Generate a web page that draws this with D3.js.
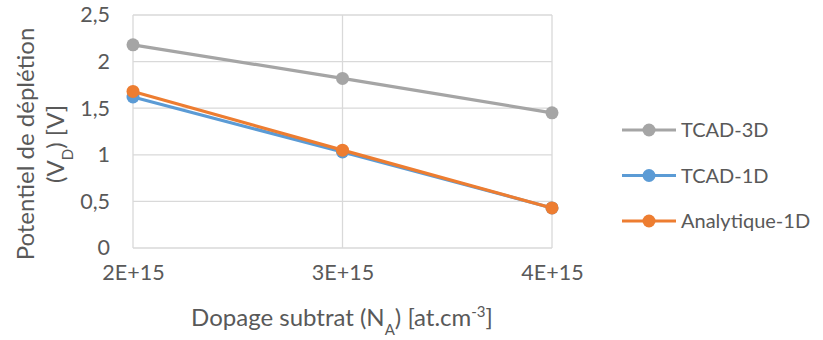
<!DOCTYPE html>
<html><head><meta charset="utf-8">
<script src="https://cdn.jsdelivr.net/npm/d3@7"></script>
<style>body{margin:0;background:#fff}text{font-family:Lato,"Open Sans",sans-serif;fill:#595959}</style>
</head><body><svg id="c" width="823" height="340"></svg>
<script>
const categories = ["2E+15", "3E+15", "4E+15"];
const tcad3d = [2.18, 1.82, 1.45];
const tcad1d = [1.62, 1.03, 0.43];
const analytique = [1.68, 1.05, 0.43];
const yTicks = [0, 0.5, 1, 1.5, 2, 2.5];
const seriesNames = ["TCAD-3D", "TCAD-1D", "Analytique-1D"];
const colors = ["#a5a5a5", "#5b9bd5", "#ed7d31"];

const svg = d3.select("#c");
const L = 133, R = 552, T = 15, B = 248;
const x = d3.scalePoint().domain(categories).range([L, R]);
const y = d3.scaleLinear().domain([0, 2.5]).range([B, T]);

// grid
svg.append("g").selectAll("line").data(yTicks).join("line")
  .attr("x1", L).attr("x2", R).attr("y1", d => y(d)).attr("y2", d => y(d))
  .attr("stroke", "#d9d9d9").attr("stroke-width", 1.3);
svg.append("g").selectAll("line").data(categories).join("line")
  .attr("x1", d => x(d)).attr("x2", d => x(d)).attr("y1", T).attr("y2", B)
  .attr("stroke", "#d9d9d9").attr("stroke-width", 1.3);

// axes
const yAxis = svg.append("g").attr("transform", `translate(${L},0)`)
  .call(d3.axisLeft(y).tickValues(yTicks).tickSize(0).tickPadding(23)
    .tickFormat(d => String(d).replace(".", ",")));
yAxis.select(".domain").remove();
yAxis.selectAll("text").style("font-size", "21.5px").style("fill", "#595959").style("font-family", "Lato");

const xAxis = svg.append("g").attr("transform", `translate(0,${B})`)
  .call(d3.axisBottom(x).tickSize(0).tickPadding(17));
xAxis.select(".domain").remove();
xAxis.selectAll("text").style("font-size", "21.5px").style("fill", "#595959").style("font-family", "Lato");

// series
const data = [tcad3d, tcad1d, analytique];
const line = d3.line().x((d, i) => x(categories[i])).y(d => y(d));
data.forEach((vals, k) => {
  const g = svg.append("g");
  g.append("path").attr("d", line(vals)).attr("fill", "none")
    .attr("stroke", colors[k]).attr("stroke-width", 3.2).attr("stroke-linejoin", "round");
  g.selectAll("circle").data(vals).join("circle")
    .attr("cx", (d, i) => x(categories[i])).attr("cy", d => y(d)).attr("r", 6.5)
    .attr("fill", colors[k]);
});

// legend
seriesNames.forEach((n, k) => {
  const ly = 130 + k * 45.5;
  const g = svg.append("g");
  g.append("line").attr("x1", 622).attr("x2", 676).attr("y1", ly).attr("y2", ly)
    .attr("stroke", colors[k]).attr("stroke-width", 3.2);
  g.append("circle").attr("cx", 649).attr("cy", ly).attr("r", 6.5).attr("fill", colors[k]);
  g.append("text").attr("x", 681).attr("y", ly).attr("dy", "0.35em")
    .style("font-size", "20px").text(n);
});

// x title
const xt = svg.append("text").attr("x", 342).attr("y", 326).attr("text-anchor", "middle").style("font-size", "24px");
xt.append("tspan").text("Dopage subtrat (N");
xt.append("tspan").attr("baseline-shift", "sub").style("font-size", "15px").text("A");
xt.append("tspan").text(") [at.cm");
xt.append("tspan").attr("baseline-shift", "super").style("font-size", "15px").text("-3");
xt.append("tspan").text("]");

// y title
const yt = svg.append("g").attr("transform", "translate(0,144) rotate(-90)");
yt.append("text").attr("x", 0).attr("y", 34).attr("text-anchor", "middle").style("font-size", "24px")
  .text("Potentiel de déplétion");
const yt2 = yt.append("text").attr("x", 0).attr("y", 64).attr("text-anchor", "middle").style("font-size", "24px");
yt2.append("tspan").text("(V");
yt2.append("tspan").attr("baseline-shift", "sub").style("font-size", "15px").text("D");
yt2.append("tspan").text(") [V]");
</script></body></html>
